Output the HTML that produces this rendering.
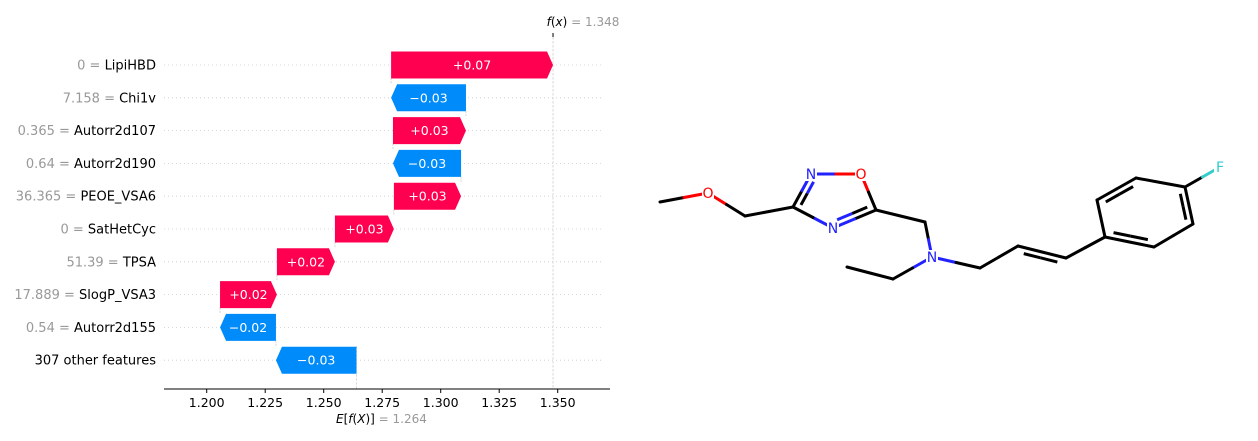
<!DOCTYPE html>
<html><head><meta charset="utf-8"><style>
html,body{margin:0;padding:0;background:#fff;width:1258px;height:441px;overflow:hidden}
svg{display:block;font-family:"DejaVu Sans","Liberation Sans",sans-serif}
</style></head><body>
<svg id="chart" width="1258" height="441">
<g id="plot"></g>
<g id="mol"></g>
</svg>
<script>
const featureValues=["0","7.158","0.365","0.64","36.365","0","51.39","17.889","0.54",""];
const featureNames=["LipiHBD","Chi1v","Autorr2d107","Autorr2d190","PEOE_VSA6","SatHetCyc","TPSA","SlogP_VSA3","Autorr2d155","307 other features"];
const shapValues=[0.0692,-0.032,0.0312,-0.0291,0.0287,0.0252,0.0248,0.0243,-0.0239,-0.0344];
const shapLabels=["+0.07","\u22120.03","+0.03","\u22120.03","+0.03","+0.03","+0.02","+0.02","\u22120.02","\u22120.03"];
const baseValue=1.264;
const fxValue=1.348;
const xTicks=[1.200,1.225,1.250,1.275,1.300,1.325,1.350];

const NS="http://www.w3.org/2000/svg";
function mk(tag,attrs,parent){const e=document.createElementNS(NS,tag);for(const k in attrs)e.setAttribute(k,attrs[k]);parent.appendChild(e);return e;}
const X=v=>206.7+(v-1.2)*2340;
const rowY=i=>65+i*32.8;
const g=document.getElementById('plot');
const axisY=389, topY=33;

for(let i=0;i<featureNames.length;i++){
  const l=mk('line',{x1:164,x2:604,y1:rowY(i),y2:rowY(i),stroke:'#ccc','stroke-width':0.8,'stroke-dasharray':'1,3'},g);
  
  
}
const bl=mk('line',{x1:X(baseValue),x2:X(baseValue),y1:rowY(9)-14,y2:axisY,stroke:'#ccc','stroke-width':0.8,'stroke-dasharray':'2.5,1.5'},g);


const fl=mk('line',{x1:X(fxValue),x2:X(fxValue),y1:topY,y2:axisY,stroke:'#ccc','stroke-width':0.8,'stroke-dasharray':'2.5,1.5'},g);


const ft=mk('line',{x1:X(fxValue),x2:X(fxValue),y1:topY,y2:topY+4,stroke:'#000','stroke-width':1},g);



let cum=baseValue;
for(let i=featureNames.length-1;i>=0;i--){
  const v=shapValues[i], s=cum, e=cum+v; cum=e;
  const y=rowY(i), h=27, y0=y-h/2, y1=y+h/2, tip=6;
  let pts;
  const a=X(s),b=X(e);
  if(v>=0){pts=`${a},${y0} ${b-tip},${y0} ${b},${y} ${b-tip},${y1} ${a},${y1}`;}
  else{pts=`${a},${y0} ${b+tip},${y0} ${b},${y} ${b+tip},${y1} ${a},${y1}`;}
  if(i>0){const c=mk('line',{x1:b,x2:b,y1:y-h/2-6,y2:y-h/2,stroke:'#ccc','stroke-width':0.8,'stroke-dasharray':'2,1'},g);
    
    }
  const p=mk('polygon',{points:pts,fill:v>=0?'#ff0051':'#008bfb'},g);
  
  
  const t=mk('text',{x:(a+b)/2,y:y+4.5,'text-anchor':'middle','font-size':12.5,fill:'#fff'},g);
  t.textContent=shapLabels[i];
  
  
  const lt=mk('text',{x:156,y:y+4.5,'text-anchor':'end','font-size':13},g);
  
  
  if(featureValues[i]!==''){const ts=mk('tspan',{fill:'#999'},lt);ts.textContent=featureValues[i]+' = ';}
  const tn=mk('tspan',{fill:'#000'},lt);tn.textContent=featureNames[i];
}
const ax=mk('line',{x1:164,x2:610,y1:axisY,y2:axisY,stroke:'#000','stroke-width':1},g);


xTicks.forEach(v=>{
  const tk=mk('line',{x1:X(v),x2:X(v),y1:axisY,y2:axisY+4,stroke:'#000','stroke-width':1},g);
  
  
  const tl=mk('text',{x:X(v),y:axisY+18,'text-anchor':'middle','font-size':12.5,fill:'#000'},g);
  tl.textContent=v.toFixed(3);
  
  
});
function richText(parent,x,y,parts,name){
  const t=mk('text',{x:x,y:y,'text-anchor':'middle','font-size':12},parent);
  
  
  parts.forEach(pt=>{const s=mk('tspan',pt[1]||{},t);s.textContent=pt[0];});
  return t;
}
richText(g,X(baseValue)+25,axisY+34,[['E',{'font-style':'italic'}],['['],['f',{'font-style':'italic'}],['('],['X',{'font-style':'italic'}],[')] '],['= '+baseValue.toFixed(3),{fill:'#999'}]],'expected-value-label');
richText(g,X(fxValue)+30,26,[['f',{'font-style':'italic'}],['('],['x',{'font-style':'italic'}],[') '],['= '+fxValue.toFixed(3),{fill:'#999'}]],'fx-value-label');

const m=document.getElementById('mol');
const A={C1:[660,202],O7:[708,193],C8:[745,216],C3:[793,207],N2:[811,174],O1:[861,174],C5:[876,210],N4:[833,228],
C9:[925,222],N:[932,257],E1:[893,279],E2:[847,267],A1:[980,268],A2:[1018,246],A3:[1066,258],
R1:[1105,237],R2:[1097,200],R3:[1136,178],R4:[1185,187],R5:[1193,224],R6:[1154,247],F:[1220,167]};
const col={O7:'#f00',O1:'#f00',N2:'#22f',N4:'#22f',N:'#22f',F:'#3cc'};
function bond(a,b){const p=A[a],q=A[b],mx=(p[0]+q[0])/2,my=(p[1]+q[1])/2;
  const l1=mk('line',{x1:p[0],y1:p[1],x2:mx,y2:my,stroke:col[a]||'#000','stroke-width':3,'stroke-linecap':'round'},m);
  
  
  const l2=mk('line',{x1:mx,y1:my,x2:q[0],y2:q[1],stroke:col[b]||'#000','stroke-width':3,'stroke-linecap':'round'},m);
  
  }
function dbl(a,b,cx,cy){const p=A[a],q=A[b];const dx=q[0]-p[0],dy=q[1]-p[1];const L=Math.hypot(dx,dy);
  let nx=-dy/L*6,ny=dx/L*6; if((cx-p[0])*nx+(cy-p[1])*ny<0){nx=-nx;ny=-ny;}
  const s=0.15;const xa=p[0]+dx*s+nx,ya=p[1]+dy*s+ny,xb=q[0]-dx*s+nx,yb=q[1]-dy*s+ny,mx=(xa+xb)/2,my=(ya+yb)/2;
  const l1=mk('line',{x1:xa,y1:ya,x2:mx,y2:my,stroke:col[a]||'#000','stroke-width':3},m);
  
  
  const l2=mk('line',{x1:mx,y1:my,x2:xb,y2:yb,stroke:col[b]||'#000','stroke-width':3},m);
  
  }
[['C1','O7'],['O7','C8'],['C8','C3'],['C3','N2'],['N2','O1'],['O1','C5'],['C5','N4'],['N4','C3'],['C5','C9'],['C9','N'],['N','E1'],['E1','E2'],['N','A1'],['A1','A2'],['A2','A3'],['A3','R1'],['R1','R2'],['R2','R3'],['R3','R4'],['R4','R5'],['R5','R6'],['R6','R1'],['R4','F']].forEach(b=>bond(b[0],b[1]));
dbl('C3','N2',834,200);dbl('C5','N4',834,200);dbl('A2','A3',1040,290);
dbl('R2','R3',1145,212);dbl('R4','R5',1145,212);dbl('R6','R1',1145,212);
[['O7','O'],['N2','N'],['O1','O'],['N4','N'],['N','N'],['F','F']].forEach(([k,s])=>{
  const p=A[k];
  const bg=mk('rect',{x:p[0]-6,y:p[1]-7,width:12,height:14,fill:'#fff'},m);
  
  
  const t=mk('text',{x:p[0],y:p[1]+5,'text-anchor':'middle','font-size':14,fill:col[k]},m);
  t.textContent=s;
  
  
});
</script>
</body></html>
